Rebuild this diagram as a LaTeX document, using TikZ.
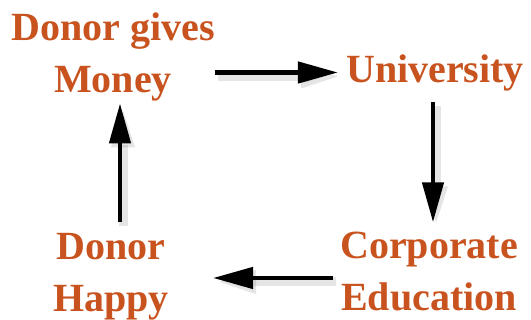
\documentclass[tikz,border=0pt]{standalone}
\usepackage{fontspec}
\setmainfont{Liberation Serif}
\usetikzlibrary{arrows.meta}
\definecolor{labelorange}{HTML}{C8531E}
\begin{document}
\begin{tikzpicture}[x=1pt,y=1pt,
  lbl/.style={inner sep=0pt, align=center, text=labelorange,
    font=\bfseries\fontsize{40}{52}\selectfont},
  arr/.style={line width=4.5pt, draw=black,
    -{Triangle[length=40pt,width=21pt]},
    preaction={draw=black, opacity=0.10, line width=9pt,
      transform canvas={shift={(3pt,-4pt)}}}}]
\useasboundingbox (0,0) rectangle (531,320);
\node[lbl] (dgm) at (113,263) {Donor gives\\Money};
\node[lbl] (uni) at (435,247.5) {University};
\node[lbl] (corp) at (429,48) {Corporate\\Education};
\node[lbl] (dh) at (111,43) {Donor\\Happy};
\draw[arr, shorten >=8pt] (dgm.east |- uni.west) -- (uni.west);
\draw[arr, shorten <=11pt, shorten >=10pt] ([xshift=-2pt]uni.south) -- ([xshift=-2pt]uni.south |- corp.north);
\draw[arr, shorten <=7pt, shorten >=44pt] ([yshift=-6pt]corp.west) -- ([yshift=-6pt]corp.west -| dh.east);
\draw[arr, shorten <=11pt, shorten >=2pt] ([xshift=9pt]dh.north) -- ([xshift=9pt]dh.north |- dgm.south);
\end{tikzpicture}
\end{document}
